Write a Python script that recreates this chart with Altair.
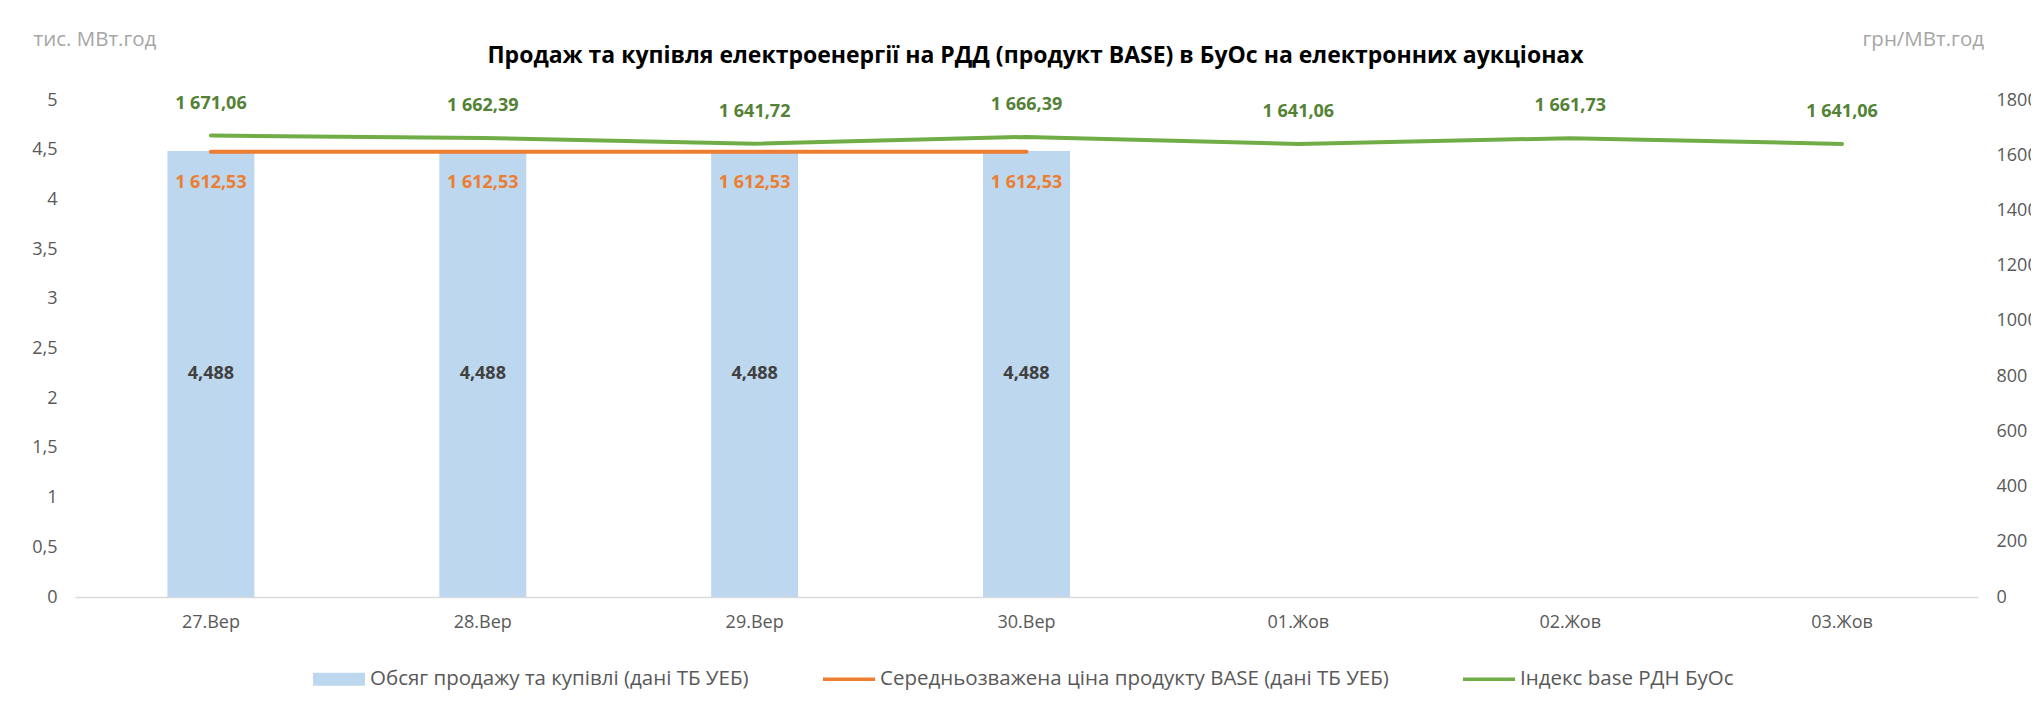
import altair as alt
import pandas as pd

dates = ["27.Вер", "28.Вер", "29.Вер", "30.Вер", "01.Жов", "02.Жов", "03.Жов"]
volume = [4.488, 4.488, 4.488, 4.488, None, None, None]
avg_price = [1612.53, 1612.53, 1612.53, 1612.53, None, None, None]
index_price = [1671.06, 1662.39, 1641.72, 1666.39, 1641.06, 1661.73, 1641.06]

series_names = [
    "Обсяг продажу та купівлі (дані ТБ УЕБ)",
    "Середньозважена ціна продукту BASE (дані ТБ УЕБ)",
    "Індекс base РДН БуОс",
]
series_colors = ["#BDD7EE", "#ED7D31", "#70AD47"]
left_ticks = [0, 0.5, 1, 1.5, 2, 2.5, 3, 3.5, 4, 4.5, 5]
right_ticks = [0, 200, 400, 600, 800, 1000, 1200, 1400, 1600, 1800]

title_text = "Продаж та купівля електроенергії на РДД (продукт BASE) в БуОс на електронних аукціонах"
left_unit = "тис. МВт.год"
right_unit = "грн/МВт.год"


def fmt_price(v):
    if v is None:
        return None
    s = f"{v:,.2f}"
    return s.replace(",", "X").replace(".", ",").replace("X", " ")


def fmt_vol(v):
    if v is None:
        return None
    return f"{v:.3f}".replace(".", ",")


df = pd.DataFrame({
    "date": dates,
    "volume": volume,
    "avg": avg_price,
    "idx": index_price,
    "vol_lbl": [fmt_vol(v) for v in volume],
    "avg_lbl": [fmt_price(v) for v in avg_price],
    "idx_lbl": [fmt_price(v) for v in index_price],
})
legend_df = pd.DataFrame({"series": series_names, "date": dates[:3], "idx": index_price[:3]})

FONT = "Open Sans"
W, H = 1903, 497

x = alt.X(
    "date:N", sort=dates,
    scale=alt.Scale(domain=dates, paddingInner=0, paddingOuter=0),
    axis=alt.Axis(title=None, labelAngle=0, ticks=False, domainColor="#D9D9D9",
                  domainWidth=1.5, labelFontSize=18, labelColor="#595959",
                  labelPadding=16, labelFont=FONT, grid=False),
)

yl_scale = alt.Scale(domain=[0, 5], nice=False)
yr_scale = alt.Scale(domain=[0, 1800], nice=False)

yl_axis = alt.Axis(
    values=left_ticks, orient="left", grid=False, domain=False, ticks=False,
    labelExpr="replace(format(datum.value, ''), '.', ',')",
    labelPadding=18, labelFontSize=18, labelColor="#595959", labelFont=FONT,
    title=left_unit, titleAngle=0, titleX=-42, titleY=-61, titleAlign="left",
    titleBaseline="middle", titleColor="#A6A6A6", titleFontWeight="normal",
    titleFontSize=20.5, titleFont=FONT)
yr_axis = alt.Axis(
    values=right_ticks, orient="right", grid=False, domain=False, ticks=False,
    labelExpr="format(datum.value, 'd')",
    labelPadding=18, labelFontSize=18, labelColor="#595959", labelFont=FONT,
    title=right_unit, titleAngle=0, titleX=-116, titleY=-61, titleAlign="left",
    titleBaseline="middle", titleColor="#A6A6A6", titleFontWeight="normal",
    titleFontSize=20.5, titleFont=FONT)

base = alt.Chart(df)

bars = base.mark_bar(color=series_colors[0], width=alt.RelativeBandSize(0.32)).encode(
    x=x, y=alt.Y("volume:Q", scale=yl_scale, axis=yl_axis, title=left_unit),
)
bar_text = base.transform_filter("isValid(datum.volume)").transform_calculate(
    mid="datum.volume / 2").mark_text(
    font=FONT, fontSize=18, fontWeight="bold", color="#404040", baseline="middle").encode(
    x=x, y=alt.Y("mid:Q", scale=yl_scale, axis=yl_axis, title=left_unit), text="vol_lbl:N")

left_layer = alt.layer(bars, bar_text)

orange_line = base.mark_line(color=series_colors[1], strokeWidth=4, strokeCap="round").encode(
    x=x, y=alt.Y("avg:Q", scale=yr_scale, axis=yr_axis, title=right_unit),
)
green_line = base.mark_line(color=series_colors[2], strokeWidth=4, strokeCap="round").encode(
    x=x, y=alt.Y("idx:Q", scale=yr_scale, axis=yr_axis, title=right_unit))
orange_text = base.transform_filter("isValid(datum.avg)").mark_text(
    font=FONT, fontSize=18, fontWeight="bold", color="#ED7D31", baseline="middle", dy=31).encode(
    x=x, y=alt.Y("avg:Q", scale=yr_scale, axis=yr_axis, title=right_unit), text="avg_lbl:N")
green_text = base.mark_text(
    font=FONT, fontSize=18, fontWeight="bold", color="#548235", baseline="middle", dy=-32).encode(
    x=x, y=alt.Y("idx:Q", scale=yr_scale, axis=yr_axis, title=right_unit), text="idx_lbl:N")

paths = [
    "M-1,-0.25H1V0.25H-1Z",
    "M-1,-0.065H1V0.065H-1Z",
    "M-1,-0.065H1V0.065H-1Z",
]
leg = dict(orient="none", legendX=238, legendY=553, direction="horizontal", title=None,
           symbolSize=2704, symbolStrokeWidth=0, symbolOpacity=1, labelFontSize=20.5,
           labelFont=FONT, labelColor="#595959", columnPadding=74, labelOffset=5,
           labelLimit=0)
legend_pts = alt.Chart(legend_df).transform_filter("false").mark_point(filled=True).encode(
    x=x, y=alt.Y("idx:Q", scale=yr_scale, axis=yr_axis, title=right_unit),
    color=alt.Color("series:N", scale=alt.Scale(domain=series_names, range=series_colors),
                    legend=alt.Legend(**leg)),
    shape=alt.Shape("series:N", scale=alt.Scale(domain=series_names, range=paths),
                    legend=alt.Legend(**leg)),
)

right_layer = alt.layer(orange_line, green_line, orange_text, green_text, legend_pts)

chart = alt.layer(left_layer, right_layer).resolve_scale(y="independent").properties(
    width=W, height=H,
    autosize=alt.AutoSizeParams(type="none"),
    padding={"left": 67, "top": 92, "right": 53, "bottom": 104},
    title=alt.TitleParams(title_text, font=FONT, fontSize=23, fontWeight="bold",
                          color="#000000", anchor="middle", offset=-39, dx=9),
).configure(background="white").configure_view(stroke=None)

chart.save("out.html", embed_options={"renderer": "svg", "actions": False})
